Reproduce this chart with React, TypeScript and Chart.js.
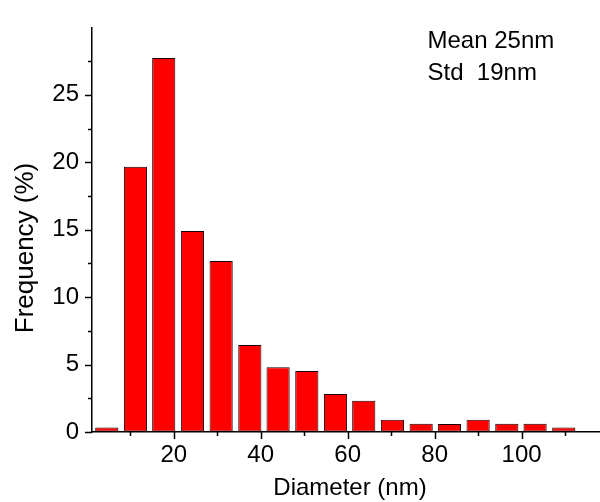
import React, { useEffect, useRef } from 'react';
import { Chart, registerables } from 'chart.js';

Chart.register(...registerables);

// ---- data ----
const binCenters = [4.6, 11.2, 17.7, 24.3, 30.9, 37.5, 44.0, 50.6, 57.2, 63.7, 70.3, 76.9, 83.4, 90.0, 96.6, 103.1, 109.7];
const frequency = [0.34, 19.67, 27.74, 14.9, 12.67, 6.46, 4.81, 4.53, 2.81, 2.31, 0.9, 0.62, 0.6, 0.9, 0.62, 0.62, 0.34];
const xMajorTicks = [20, 40, 60, 80, 100];
const xMinorTicks = [10, 30, 50, 70, 90, 110];
const yMajorTicks = [0, 5, 10, 15, 20, 25];
const yMinorTicks = [2.5, 7.5, 12.5, 17.5, 22.5, 27.5];
const statsLines = ['Mean 25nm', 'Std  19nm'];
const xTitle = 'Diameter (nm)';
const yTitle = 'Frequency (%)';

const FONT = '"Liberation Sans", Arial, Helvetica, sans-serif';

const decorPlugin = {
  id: 'decor',
  afterDraw(chart: any) {
    const ctx = chart.ctx;
    const xs = chart.scales.x;
    const ys = chart.scales.y;
    const area = chart.chartArea;
    ctx.save();
    ctx.strokeStyle = '#000';
    ctx.lineWidth = 1.5;
    ctx.beginPath();
    yMajorTicks.forEach((v) => {
      const p = Math.round(ys.getPixelForValue(v)) + 0.5;
      ctx.moveTo(area.left, p);
      ctx.lineTo(area.left - 7, p);
    });
    yMinorTicks.forEach((v) => {
      const p = Math.round(ys.getPixelForValue(v)) + 0.5;
      ctx.moveTo(area.left, p);
      ctx.lineTo(area.left - 4, p);
    });
    xMajorTicks.forEach((v) => {
      const p = Math.round(xs.getPixelForValue(v)) + 0.5;
      ctx.moveTo(p, area.bottom);
      ctx.lineTo(p, area.bottom + 7);
    });
    xMinorTicks.forEach((v) => {
      const p = Math.round(xs.getPixelForValue(v)) + 0.5;
      ctx.moveTo(p, area.bottom);
      ctx.lineTo(p, area.bottom + 4);
    });
    ctx.stroke();

    ctx.fillStyle = '#000';
    // x title
    ctx.font = `24px ${FONT}`;
    ctx.textAlign = 'center';
    ctx.textBaseline = 'alphabetic';
    ctx.fillText(xTitle, 350, 495);
    // y title
    ctx.save();
    ctx.translate(33, 248);
    ctx.rotate(-Math.PI / 2);
    ctx.font = `26px ${FONT}`;
    ctx.textAlign = 'center';
    ctx.fillText(yTitle, 0, 0);
    ctx.restore();
    // stats
    ctx.font = `24px ${FONT}`;
    ctx.textAlign = 'left';
    ctx.fillText(statsLines[0], 427.5, 48.3);
    ctx.fillText(statsLines[1], 427.5, 80);
    ctx.restore();
  },
};

export default function App() {
  const canvasRef = useRef<HTMLCanvasElement | null>(null);

  useEffect(() => {
    if (!canvasRef.current) return;
    const chart = new Chart(canvasRef.current, {
      type: 'bar',
      data: {
        datasets: [
          {
            data: binCenters.map((x, i) => ({ x, y: frequency[i] })),
            backgroundColor: '#ff0000',
            borderColor: '#1a0000',
            borderWidth: 1,
            borderSkipped: false,
            barPercentage: 0.82,
            categoryPercentage: 1,
          },
        ],
      },
      options: {
        animation: false,
        responsive: false,
        devicePixelRatio: 1,
        layout: { padding: { top: 12, right: 1, left: 0, bottom: 0 } },
        plugins: { legend: { display: false }, tooltip: { enabled: false }, title: { display: false } },
        scales: {
          x: {
            type: 'linear',
            min: 1.2,
            max: 117.8,
            offset: false,
            afterFit: (s: any) => { s.height = 70; },
            grid: { display: true, drawOnChartArea: false, drawTicks: false },
            border: { display: true, color: '#000', width: 1.5 },
            ticks: {
              stepSize: 20,
              includeBounds: false,
              padding: 9,
              color: '#000',
              maxRotation: 0,
              autoSkip: false,
              font: { family: FONT, size: 24 },
            },
          },
          y: {
            type: 'linear',
            min: 0,
            max: 30,
            afterFit: (s: any) => { s.width = 92; },
            grid: { display: true, drawOnChartArea: false, drawTicks: false },
            border: { display: true, color: '#000', width: 1.5 },
            ticks: {
              stepSize: 5,
              padding: 13,
              color: '#000',
              font: { family: FONT, size: 24 },
              callback: (v: any) => (v === 30 ? '' : String(v)),
            },
          },
        },
      },
      plugins: [decorPlugin],
    } as any);
    return () => chart.destroy();
  }, []);

  return (
    <div style={{ position: 'absolute', left: 0, top: 0, width: 600, height: 502, background: '#fff' }}>
      <canvas ref={canvasRef} width={600} height={502} style={{ display: 'block', width: 600, height: 502 }} />
    </div>
  );
}
